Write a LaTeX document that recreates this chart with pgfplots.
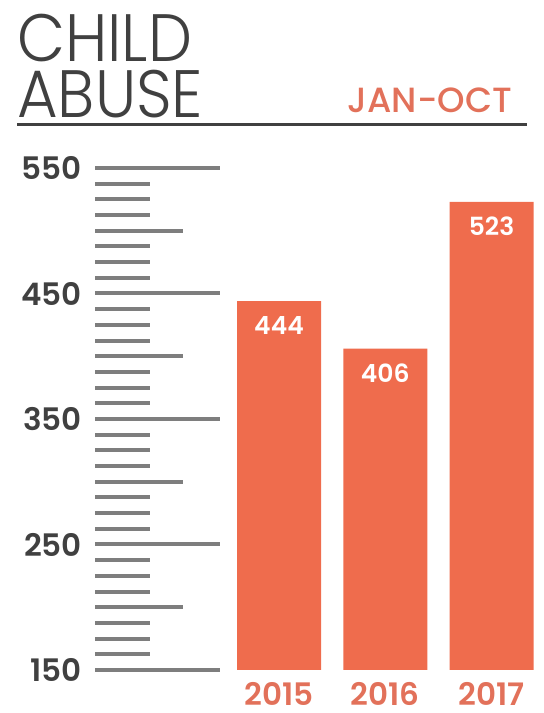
\documentclass[border=0pt]{standalone}
\usepackage{fontspec}
\setmainfont{Poppins}[BoldFont=* SemiBold]
\newfontfamily\lightfont{Poppins}[UprightFont=* Light]
\newfontfamily\medfont{Poppins}[UprightFont=* Medium]
\usepackage{graphicx}
\usepackage{pgfplots}
\pgfplotsset{compat=1.18}
\definecolor{barorange}{HTML}{EF6C4D}
\definecolor{yearorange}{HTML}{E2715A}
\definecolor{tickgray}{HTML}{7E7E7E}
\definecolor{titlegray}{HTML}{404040}
\begin{document}
\begin{tikzpicture}
\path[use as bounding box] (0,0) rectangle (544pt,713pt);
\node[anchor=base west, inner sep=0pt, text=titlegray, font=\lightfont\fontsize{67}{67}\selectfont] at (17pt,651pt) {\scalebox{0.93}[1]{CHILD}};
\node[anchor=base west, inner sep=0pt, text=titlegray, font=\lightfont\fontsize{67}{67}\selectfont] at (17pt,595pt) {\scalebox{0.93}[1]{ABUSE}};
\node[anchor=base east, inner sep=0pt, text=yearorange, font=\medfont\fontsize{35}{35}\selectfont] at (512pt,600pt) {JAN-OCT};
\draw[titlegray, line width=3pt] (17pt,588pt) -- (527pt,588pt);
\begin{axis}[
  at={(95pt,43pt)}, anchor=south west,
  scale only axis, width=449pt, height=502pt,
  xmin=-1.732, xmax=2.494, ymin=150, ymax=550,
  axis lines*=left, axis line style={draw=none},
  tick align=inside,
  ytick={150,250,350,450,550},
  extra y ticks={200,300,400,500}, extra y tick labels={},
  extra tick style={major tick length=88pt},
  minor ytick={162.5,175,187.5,212.5,225,237.5,262.5,275,287.5,312.5,325,337.5,362.5,375,387.5,412.5,425,437.5,462.5,475,487.5,512.5,525,537.5},
  major tick length=125pt, minor tick length=55pt,
  tick style={draw=tickgray, line width=4pt},
  xtick={0,1,2}, xticklabels={2015,2016,2017},
  xtick style={draw=none},
  /pgf/number format/assume math mode=true,
  xticklabel style={font=\fontsize{31}{31}\selectfont\bfseries, text=yearorange, inner sep=0pt, yshift=-12pt, anchor=north},
  yticklabel style={font=\fontsize{31}{31}\selectfont\bfseries, text=titlegray, inner sep=0pt, xshift=-13pt, anchor=east},
  nodes near coords style={font=\fontsize{25}{25}\selectfont\bfseries, text=white, anchor=north, inner sep=0pt, yshift=-15pt},
]
\addplot[ybar, bar width=84pt, fill=barorange, draw=none, nodes near coords] coordinates {(0,444) (1,406) (2,523)};
\end{axis}
\end{tikzpicture}
\end{document}
